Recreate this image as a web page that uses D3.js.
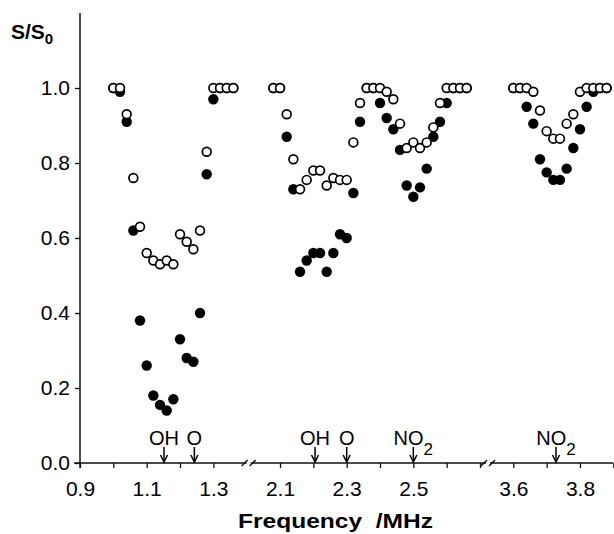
<!DOCTYPE html>
<html>
<head>
<meta charset="utf-8">
<script src="https://cdn.jsdelivr.net/npm/d3@7/dist/d3.min.js"></script>
<style>
body { margin: 0; background: #fff; }
text { font-family: Arial, "Liberation Sans", sans-serif; fill: #000; }
</style>
</head>
<body>
<svg id="chart"></svg>
<script>

// frequencies (MHz) of the measured points, three windows
var freq = [1.00,1.02,1.04,1.06,1.08,1.10,1.12,1.14,1.16,1.18,1.20,1.22,1.24,1.26,1.28,1.30,1.32,1.34,1.36,
            2.08,2.10,2.12,2.14,2.16,2.18,2.20,2.22,2.24,2.26,2.28,2.30,2.32,2.34,2.36,2.38,2.40,2.42,2.44,2.46,2.48,2.50,2.52,2.54,2.56,2.58,2.60,2.62,2.64,2.66,
            3.60,3.62,3.64,3.66,3.68,3.70,3.72,3.74,3.76,3.78,3.80,3.82,3.84,3.86,3.88];

// open circles
var openVals = [1.0,1.0,0.93,0.76,0.63,0.56,0.54,0.53,0.54,0.53,0.61,0.59,0.57,0.62,0.83,1.0,1.0,1.0,1.0,
                1.0,1.0,0.93,0.81,0.73,0.755,0.78,0.78,0.74,0.76,0.755,0.755,0.855,0.96,1.0,1.0,1.0,0.99,0.97,0.905,0.84,0.855,0.84,0.855,0.895,0.96,1.0,1.0,1.0,1.0,
                1.0,1.0,1.0,0.99,0.94,0.885,0.865,0.865,0.905,0.93,0.99,1.0,1.0,1.0,1.0];

// filled circles
var fillVals = [1.0,0.99,0.91,0.62,0.38,0.26,0.18,0.155,0.14,0.17,0.33,0.28,0.27,0.40,0.77,0.97,1.0,1.0,1.0,
                1.0,1.0,0.87,0.73,0.51,0.54,0.56,0.56,0.51,0.56,0.61,0.60,0.72,0.91,1.0,1.0,0.96,0.92,0.89,0.835,0.74,0.71,0.735,0.785,0.87,0.91,0.96,1.0,1.0,1.0,
                1.0,1.0,0.95,0.905,0.81,0.775,0.755,0.755,0.785,0.84,0.89,0.95,0.99,1.0,1.0];

var xTicks = [0.9,1.0,1.1,1.2,1.3,2.1,2.2,2.3,2.4,2.5,2.6,2.7,3.6,3.7,3.8,3.9];
var xLabeled = [0.9,1.1,1.3,2.1,2.3,2.5,3.6,3.8];
var yTicks = [0,0.2,0.4,0.6,0.8,1.0];

var markNames = ["OH","O","OH","O","NO","NO"];
var markSubs  = ["","","","","2","2"];
var markFreqs = [1.152,1.243,2.205,2.30,2.50,3.728];

var width = 614, height = 534;
var svg = d3.select("#chart").attr("width", width).attr("height", height);

// broken axis: 0.9-1.4 | 2.0-2.7 | 3.5-3.9
var x = d3.scaleLinear()
  .domain([0.9, 1.4, 2.0, 2.7, 3.5, 3.9])
  .range([80, 246.7, 246.7, 480, 480, 613.3]);
var y = d3.scaleLinear().domain([0, 1]).range([463, 88]);

var pts = freq.map(function(f, i) { return {f: f, o: openVals[i], c: fillVals[i]}; });

// x axis
var gx = svg.append("g").attr("transform", "translate(0," + y(0) + ")")
  .call(d3.axisBottom(x).tickValues(xTicks).tickSize(5).tickPadding(13)
    .tickFormat(function(d) { return xLabeled.indexOf(d) >= 0 ? d3.format(".1f")(d) : ""; }));
gx.select(".domain").remove();
gx.selectAll("line").attr("stroke", "#111").attr("stroke-width", 1.3);
gx.selectAll("text").attr("font-size", "21px").attr("fill", "#000");

svg.append("line")
  .attr("x1", 74).attr("x2", 613).attr("y1", y(0)).attr("y2", y(0))
  .attr("stroke", "#111").attr("stroke-width", 1.5);

// break marks
[x(2.0) + 2, x(3.5) + 8].forEach(function(cx) {
  svg.append("rect").attr("x", cx - 2).attr("y", y(0) - 2).attr("width", 4).attr("height", 4).attr("fill", "#fff");
  [-4, 4].forEach(function(o) {
    svg.append("line")
      .attr("x1", cx + o - 3).attr("y1", y(0) + 3)
      .attr("x2", cx + o + 3).attr("y2", y(0) - 3)
      .attr("stroke", "#111").attr("stroke-width", 1.4);
  });
});

// y axis
var gy = svg.append("g").attr("transform", "translate(80,0)")
  .call(d3.axisLeft(y).tickValues(yTicks).tickSize(5).tickPadding(5).tickFormat(d3.format(".1f")));
gy.select(".domain").remove();
gy.selectAll("line").attr("stroke", "#111").attr("stroke-width", 1.3);
gy.selectAll("text").attr("font-size", "21px").attr("fill", "#000");

svg.append("line")
  .attr("x1", 80).attr("x2", 80).attr("y1", y(1.2)).attr("y2", y(0) + 5)
  .attr("stroke", "#111").attr("stroke-width", 1.5);

// points: filled under open
svg.append("g").selectAll("circle")
  .data(pts).enter().append("circle")
  .attr("cx", function(d) { return x(d.f); })
  .attr("cy", function(d) { return y(d.c); })
  .attr("r", 5.2)
  .attr("fill", "#000");

svg.append("g").selectAll("circle")
  .data(pts).enter().append("circle")
  .attr("cx", function(d) { return x(d.f); })
  .attr("cy", function(d) { return y(d.o); })
  .attr("r", 4.4)
  .attr("fill", "#fff")
  .attr("stroke", "#000")
  .attr("stroke-width", 1.7);

// resonance markers
var mk = svg.append("g").selectAll("g")
  .data(markFreqs).enter().append("g");
mk.append("line")
  .attr("x1", function(d) { return x(d); }).attr("x2", function(d) { return x(d); })
  .attr("y1", 447).attr("y2", 462)
  .attr("stroke", "#000").attr("stroke-width", 1.5);
mk.append("polyline")
  .attr("points", function(d) { var c = x(d); return (c - 3.5) + ",455 " + c + ",462 " + (c + 3.5) + ",455"; })
  .attr("fill", "none").attr("stroke", "#000").attr("stroke-width", 1.5);
var lab = mk.append("text")
  .attr("x", function(d) { return x(d); })
  .attr("y", 444.5)
  .attr("text-anchor", "middle")
  .attr("font-size", "20px");
lab.append("tspan").text(function(d, i) { return markNames[i]; });
lab.append("tspan").attr("dy", 10).attr("font-size", "17px")
  .text(function(d, i) { return markSubs[i]; });

// axis titles
var yt = svg.append("text").attr("x", 11).attr("y", 38.5)
  .attr("font-size", "21px").attr("font-weight", "bold");
yt.append("tspan").text("S/S");
yt.append("tspan").attr("dy", 5).attr("font-size", "15px").text("0");

svg.append("text").attr("x", 238).attr("y", 528)
  .attr("font-size", "20px").attr("font-weight", "bold")
  .attr("textLength", 195).attr("lengthAdjust", "spacingAndGlyphs")
  .text("Frequency\u00a0\u00a0/MHz");

</script>
</body>
</html>
